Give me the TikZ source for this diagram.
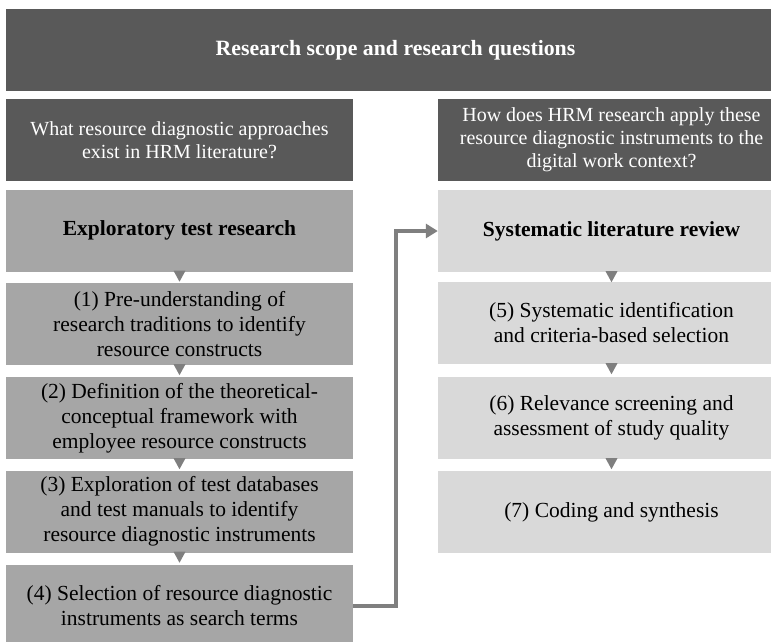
\documentclass[tikz,border=0pt]{standalone}
\usepackage{fontspec}
\setmainfont{Liberation Serif}
\usepackage{tikz}
\usepackage{xcolor}
\usetikzlibrary{arrows.meta,positioning,calc}
\definecolor{ScopeDark}{HTML}{595959}
\definecolor{ExploreGray}{HTML}{A6A6A6}
\definecolor{ReviewGray}{HTML}{D9D9D9}
\definecolor{MarkerGray}{HTML}{7F7F7F}
\tikzset{
    % Base box style
    basebox/.style={
        draw=none,
        inner sep=0pt,
        minimum width=347pt,
        minimum height=82pt,
        align=center,
        font=\fontsize{21.5}{25}\selectfont
    },
    % Scope and question boxes
    scopebox/.style={
        basebox,
        fill=ScopeDark,
        text=white,
        font=\fontsize{20}{23}\selectfont
    },
    % Exploratory column
    explorebox/.style={
        basebox,
        fill=ExploreGray,
        text=black
    },
    % Review column
    reviewbox/.style={
        basebox,
        fill=ReviewGray,
        text=black
    },
    % Small down marker
    downmarker/.style={
        fill=MarkerGray
    },
    % Link arrow
    linkarrow/.style={
        -{Triangle[length=12pt,width=14pt]},
        line width=4pt,
        draw=MarkerGray
    }
}
\begin{document}
\begin{tikzpicture}[x=1pt, y=-1pt]
        \clip (0,0) rectangle (771,642);
        \fill[white] (0,0) rectangle (771,642);

        % Scope and questions
        \node[scopebox, minimum width=779pt, font=\fontsize{21.8}{25}\selectfont\bfseries] (scope) at (395.5,50) {Research scope and research questions};
        \node[scopebox] (q1) at (179.5,140) {What resource diagnostic approaches\\exist in HRM literature?};
        \node[scopebox] (q2) at (611.5,140) {How does HRM research apply these\\resource diagnostic instruments to the\\digital work context?};

        % Exploratory test research
        \node[explorebox, font=\fontsize{21.5}{25}\selectfont\bfseries] (e0) at (179.5,230.5) {Exploratory test research};
        \node[explorebox] (e1) at (179.5,324) {(1) Pre-understanding of\\research traditions to identify\\resource constructs};
        \node[explorebox] (e2) at (179.5,418) {(2) Definition of the theoretical-\\conceptual framework with\\employee resource constructs};
        \node[explorebox] (e3) at (179.5,511.5) {(3) Exploration of test databases\\and test manuals to identify\\resource diagnostic instruments};
        \node[explorebox] (e4) at (179.5,606) {(4) Selection of resource diagnostic\\instruments as search terms};

        % Systematic literature review
        \node[reviewbox, font=\fontsize{21.5}{25}\selectfont\bfseries] (s0) at (611.5,231) {Systematic literature review};
        \node[reviewbox] (s5) at (611.5,323) {(5) Systematic identification\\and criteria-based selection};
        \node[reviewbox] (s6) at (611.5,418) {(6) Relevance screening and\\assessment of study quality};
        \node[reviewbox] (s7) at (611.5,512) {(7) Coding and synthesis};

        % Down markers
        \foreach \upper in {e0,e1,e2,e3,s0,s5,s6}
            \fill[downmarker] ($(\upper.south)+(-6,-1)$) -- ($(\upper.south)+(6,-1)$) -- ($(\upper.south)+(0,10)$) -- cycle;

        % Link between the columns
        \draw[linkarrow] (e4.east) -- ++(43,0) |- (s0.west);
    \end{tikzpicture}
\end{document}
